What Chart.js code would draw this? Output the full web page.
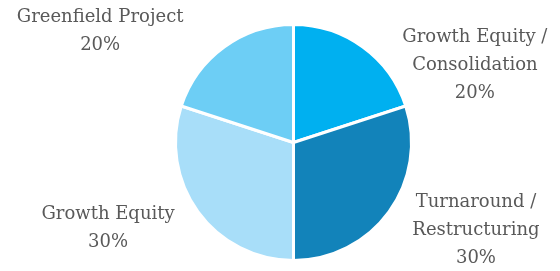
<!DOCTYPE html>
<html>
<head>
<meta charset="utf-8">
<script src="https://cdn.jsdelivr.net/npm/chart.js@4"></script>
<style>
  html, body { margin: 0; padding: 0; background: #fff; }
  #wrap { width: 560px; height: 271px; }
</style>
</head>
<body>
<div id="wrap"><canvas id="pieChart"></canvas></div>
<script>
// slices, clockwise from 12 o'clock
const categories = [
  ['Growth Equity /', 'Consolidation'],
  ['Turnaround /', 'Restructuring'],
  ['Growth Equity'],
  ['Greenfield Project']
];
const shares = [20, 30, 30, 20];
const sliceColors = ['#00B0F0', '#1283BA', '#A8DEF9', '#6DCEF5'];

// where each label sits, relative to the outer point of its slice
const labelOffsets = [[112, 18], [87, 18], [-90, 16], [-124, -16]];

const outsideLabels = {
  id: 'outsideLabels',
  afterDatasetsDraw(chart) {
    const ctx = chart.ctx;
    const arcs = chart.getDatasetMeta(0).data;
    ctx.save();
    ctx.font = '18px "DejaVu Serif", serif';
    ctx.fillStyle = '#595959';
    ctx.textAlign = 'center';
    ctx.textBaseline = 'middle';
    const lineH = 28;
    arcs.forEach(function(arc, i) {
      const mid = (arc.startAngle + arc.endAngle) / 2;
      const px = arc.x + Math.cos(mid) * arc.outerRadius + labelOffsets[i][0];
      const py = arc.y + Math.sin(mid) * arc.outerRadius + labelOffsets[i][1];
      const lines = categories[i].concat([shares[i] + '%']);
      const top = py - (lines.length - 1) * lineH / 2;
      lines.forEach(function(t, k) {
        ctx.fillText(t, px, top + k * lineH);
      });
    });
    ctx.restore();
  }
};

document.addEventListener('DOMContentLoaded', function() {
  const ctx = document.getElementById('pieChart').getContext('2d');
  new Chart(ctx, {
    type: 'pie',
    data: {
      labels: categories.map(function(c) { return c.join(' '); }),
      datasets: [{
        data: shares,
        backgroundColor: sliceColors,
        borderColor: '#ffffff',
        borderWidth: 3,
        hoverOffset: 0
      }]
    },
    options: {
      responsive: true,
      maintainAspectRatio: false,
      animation: false,
      layout: { padding: { top: 23, bottom: 9, left: 27, right: 0 } },
      plugins: {
        legend: { display: false },
        tooltip: { enabled: false }
      }
    },
    plugins: [outsideLabels]
  });
});
</script>
</body>
</html>
